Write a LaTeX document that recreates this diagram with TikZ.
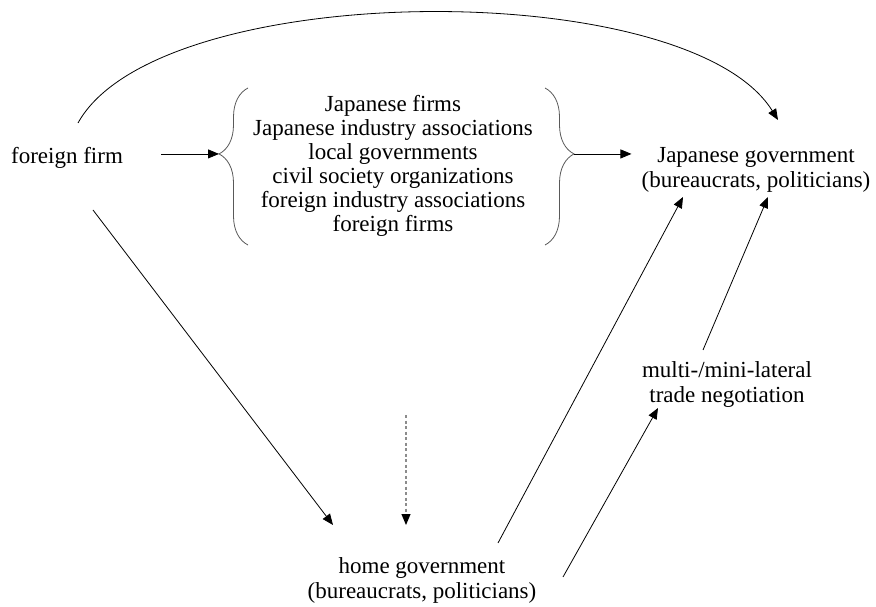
\documentclass[tikz,border=0pt]{standalone}
\usepackage{fontspec}
\setmainfont{Liberation Serif}
\usetikzlibrary{arrows.meta,decorations.pathreplacing,calc}
\begin{document}
\begin{tikzpicture}[x=1pt,y=1pt,
   every node/.style={inner sep=0pt, align=center, font=\fontsize{23}{25}\selectfont},
   list/.style={font=\fontsize{23}{24}\selectfont},
   arr/.style={-{Triangle[length=11pt,width=9pt]}, line width=0.8pt},
   dotarr/.style={-{Triangle[length=11pt,width=9pt,color=black]}, line width=1.1pt,
                  draw=black!45, dash pattern=on 3pt off 2.5pt},
   curly/.style={decorate, decoration={brace, amplitude=29pt, aspect=#1},
                 line width=0.8pt, draw=black!65}]

\useasboundingbox (0,0) rectangle (876,606);

\node[anchor=base] (ffirm) at (67,442) {foreign firm};
\node[anchor=base, list] (actors) at (393,374) {Japanese firms\\
    Japanese industry associations\\ local governments\\
    civil society organizations\\ foreign industry associations\\ foreign firms};
\node[anchor=base] (jgov) at (756,418) {Japanese government\\ (bureaucrats, politicians)};
\node[anchor=base] (hgov) at (422,8) {home government\\ (bureaucrats, politicians)};
\node[anchor=base] (multi) at (727,204) {multi-/mini-lateral\\ trade negotiation};

\coordinate (lbb) at ([shift={(-145pt,-13pt)}]actors.base);
\coordinate (lbt) at ([shift={(-145pt,144pt)}]actors.base);
\coordinate (rbt) at ([shift={(152pt,144pt)}]actors.base);
\coordinate (rbb) at ([shift={(152pt,-13pt)}]actors.base);
\coordinate (ltip) at ($(lbb)!0.58!(lbt)+(-29pt,0)$);
\coordinate (rtip) at ($(rbt)!0.42!(rbb)+(29pt,0)$);

\draw[curly=0.58] (lbb) -- (lbt);
\draw[curly=0.42] (rbt) -- (rbb);

\draw[arr, shorten <=38pt] (ffirm.east |- ltip) -- (ltip);
\draw[arr, shorten >=10pt] (rtip) -- (rtip -| jgov.west);
\draw[arr] ([shift={(11pt,41pt)}]ffirm.base) .. controls +(80,145) and +(-90,145)
    .. ([shift={(22pt,68pt)}]jgov.base);
\draw[arr] ([shift={(26pt,-46pt)}]ffirm.base) -- ([shift={(-89pt,73pt)}]hgov.base);
\draw[dotarr] ([shift={(13pt,-183pt)}]actors.base) -- ([shift={(-16pt,73pt)}]hgov.base);
\draw[arr] ([shift={(76pt,55pt)}]hgov.base) -- ([shift={(-73pt,-9pt)}]jgov.base);
\draw[arr] ([shift={(141pt,21pt)}]hgov.base) -- ([shift={(-69pt,-6pt)}]multi.base);
\draw[arr] ([shift={(-24pt,52pt)}]multi.base) -- ([shift={(12pt,-9pt)}]jgov.base);

\end{tikzpicture}
\end{document}
